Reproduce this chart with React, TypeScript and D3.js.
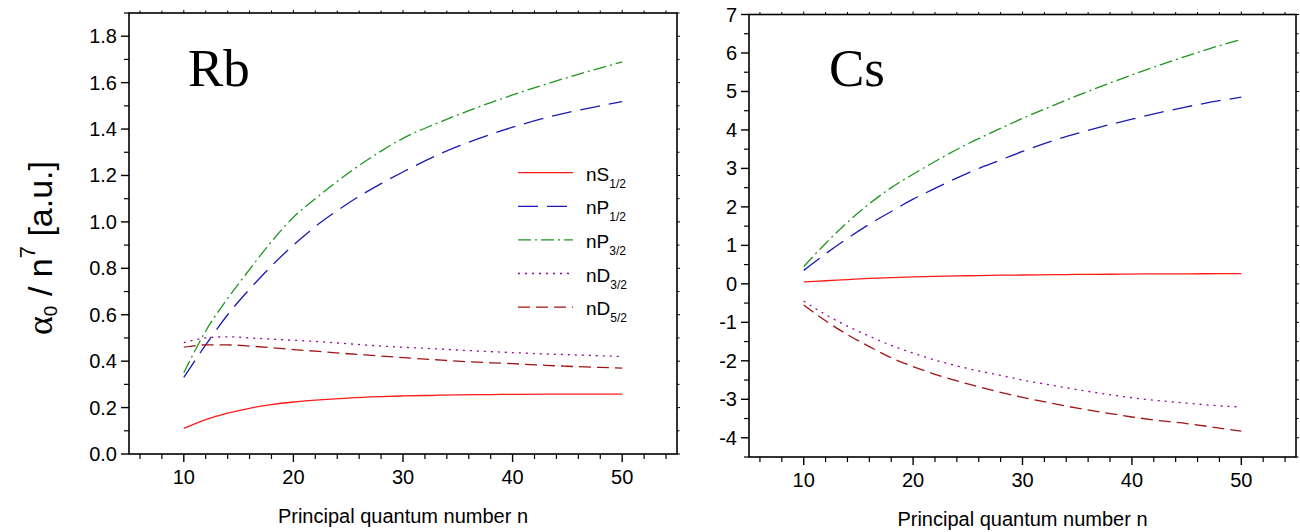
import React from "react";
import * as d3 from "d3";

const nVals = [10, 12, 14, 16, 18, 20, 22, 25, 28, 30, 33, 35, 38, 40, 43, 45, 48, 50];

const rbS12 = [0.11, 0.148, 0.176, 0.197, 0.213, 0.224, 0.232, 0.241, 0.247, 0.25, 0.253, 0.255, 0.256, 0.257, 0.258, 0.258, 0.258, 0.258];
const rbP12 = [0.33, 0.47, 0.6, 0.71, 0.81, 0.9, 0.98, 1.08, 1.165, 1.215, 1.285, 1.325, 1.377, 1.408, 1.448, 1.471, 1.5, 1.518];
const rbP32 = [0.35, 0.53, 0.67, 0.795, 0.915, 1.02, 1.1, 1.21, 1.305, 1.36, 1.423, 1.461, 1.514, 1.547, 1.593, 1.622, 1.663, 1.689];
const rbD32 = [0.48, 0.5, 0.505, 0.5, 0.495, 0.49, 0.485, 0.475, 0.465, 0.46, 0.453, 0.448, 0.441, 0.437, 0.431, 0.428, 0.423, 0.42];
const rbD52 = [0.46, 0.47, 0.47, 0.465, 0.458, 0.45, 0.443, 0.432, 0.422, 0.415, 0.406, 0.4, 0.393, 0.389, 0.382, 0.378, 0.373, 0.37];

const csS12 = [0.05, 0.08, 0.11, 0.14, 0.16, 0.18, 0.195, 0.21, 0.225, 0.23, 0.24, 0.245, 0.25, 0.255, 0.26, 0.26, 0.265, 0.265];
const csP12 = [0.35, 0.78, 1.18, 1.55, 1.88, 2.2, 2.48, 2.88, 3.22, 3.44, 3.74, 3.91, 4.14, 4.28, 4.48, 4.6, 4.76, 4.85];
const csP32 = [0.45, 1.05, 1.6, 2.08, 2.5, 2.85, 3.18, 3.64, 4.04, 4.3, 4.66, 4.89, 5.22, 5.43, 5.73, 5.92, 6.19, 6.35];
const csD32 = [-0.45, -0.8, -1.1, -1.36, -1.6, -1.8, -1.98, -2.2, -2.38, -2.5, -2.65, -2.75, -2.88, -2.96, -3.05, -3.1, -3.17, -3.2];
const csD52 = [-0.55, -0.96, -1.32, -1.63, -1.92, -2.15, -2.35, -2.6, -2.82, -2.95, -3.12, -3.23, -3.37, -3.46, -3.57, -3.63, -3.75, -3.83];

const seriesNames = ["S", "P", "P", "D", "D"];
const seriesSubs = ["1/2", "1/2", "3/2", "3/2", "5/2"];
const seriesColors = ["#ff1a1a", "#1a1ab4", "#1e961e", "#990099", "#a01414"];
const seriesDash = ["", "20,9", "13,4,2,4", "2,5", "12,6"];

const xTickLabels = [10, 20, 30, 40, 50];
const rbYTicks = [0, 0.2, 0.4, 0.6, 0.8, 1.0, 1.2, 1.4, 1.6, 1.8];
const csYTicks = [-4, -3, -2, -1, 0, 1, 2, 3, 4, 5, 6, 7];

const SANS = "'Liberation Sans', Arial, Helvetica, sans-serif";
const SERIF = "'Liberation Serif', 'Times New Roman', serif";

type PanelProps = {
  x0: number; x1: number; y0: number; y1: number;
  ydom: [number, number];
  yTicks: number[]; yMinorStep: number; yFmt: (v: number) => string;
  data: number[][];
  title: string; titleX: number;
  legend?: boolean;
};

function Panel(p: PanelProps) {
  const x = d3.scaleLinear().domain([5, 55]).range([p.x0, p.x1]);
  const y = d3.scaleLinear().domain(p.ydom).range([p.y1, p.y0]);
  const line = d3
    .line<number>()
    .x((_, i) => x(nVals[i]))
    .y((v) => y(v))
    .curve(d3.curveMonotoneX);

  const xMinor = d3.range(6, 55, 2).filter((v) => v % 10 !== 0);
  const yMinor: number[] = [];
  for (let v = p.ydom[0]; v <= p.ydom[1] + 1e-9; v += p.yMinorStep) {
    const r = Math.round(v * 1000) / 1000;
    if (!p.yTicks.some((t) => Math.abs(t - r) < 1e-6)) yMinor.push(r);
  }
  const sw = 1.6;
  return (
    <g>
      {p.data.map((arr, i) => (
        <path
          key={i}
          d={line(arr) || ""}
          fill="none"
          stroke={seriesColors[i]}
          strokeWidth={1.3}
          strokeDasharray={seriesDash[i]}
        />
      ))}
      <rect x={p.x0} y={p.y0} width={p.x1 - p.x0} height={p.y1 - p.y0} fill="none" stroke="#000" strokeWidth={sw} />
      {xTickLabels.map((v) => (
        <g key={"xm" + v}>
          <line x1={x(v)} x2={x(v)} y1={p.y1} y2={p.y1 + 8} stroke="#000" strokeWidth={1.4} />
          <line x1={x(v)} x2={x(v)} y1={p.y0} y2={p.y0 - 3} stroke="#000" strokeWidth={1} />
          <text x={x(v)} y={p.y1 + 30} textAnchor="middle" fontFamily={SANS} fontSize={20} fill="#000">
            {v}
          </text>
        </g>
      ))}
      {xMinor.map((v) => (
        <g key={"xn" + v}>
          <line x1={x(v)} x2={x(v)} y1={p.y1} y2={p.y1 + 5} stroke="#000" strokeWidth={1.2} />
          <line x1={x(v)} x2={x(v)} y1={p.y0} y2={p.y0 - 2.5} stroke="#000" strokeWidth={1} />
        </g>
      ))}
      {p.yTicks.map((v) => (
        <g key={"ym" + v}>
          <line x1={p.x0} x2={p.x0 - 8} y1={y(v)} y2={y(v)} stroke="#000" strokeWidth={1.4} />
          <line x1={p.x1} x2={p.x1 + 3} y1={y(v)} y2={y(v)} stroke="#000" strokeWidth={1} />
          <text x={p.x0 - 12} y={y(v) + 7} textAnchor="end" fontFamily={SANS} fontSize={20} fill="#000">
            {p.yFmt(v)}
          </text>
        </g>
      ))}
      {yMinor.map((v) => (
        <g key={"yn" + v}>
          <line x1={p.x0} x2={p.x0 - 5} y1={y(v)} y2={y(v)} stroke="#000" strokeWidth={1.2} />
          <line x1={p.x1} x2={p.x1 + 2.5} y1={y(v)} y2={y(v)} stroke="#000" strokeWidth={1} />
        </g>
      ))}
      <text x={(p.x0 + p.x1) / 2} y={p.y1 + 69} textAnchor="middle" fontFamily={SANS} fontSize={20} fill="#000">
        Principal quantum number n
      </text>
      <text x={p.titleX} y={86} fontFamily={SERIF} fontSize={53} fill="#000">
        {p.title}
      </text>
      {p.legend &&
        seriesNames.map((nm, i) => {
          const ly = 172.7 + i * 33.6;
          return (
            <g key={"lg" + i}>
              <line x1={518} x2={573} y1={ly} y2={ly} stroke={seriesColors[i]} strokeWidth={1.3} strokeDasharray={seriesDash[i]} />
              <text x={586} y={ly + 8} fontFamily={SANS} fontSize={19} fill="#000">
                n{nm}
                <tspan fontSize={12} dy={7}>
                  {seriesSubs[i]}
                </tspan>
              </text>
            </g>
          );
        })}
    </g>
  );
}

export default function App() {
  return (
    <svg
      width={1300}
      height={532}
      style={{ position: "absolute", left: 0, top: 0, background: "#fff" }}
      xmlns="http://www.w3.org/2000/svg"
    >
      <rect x={0} y={0} width={1300} height={532} fill="#fff" />
      <Panel
        x0={129} x1={677} y0={13} y1={454}
        ydom={[0, 1.9]} yTicks={rbYTicks} yMinorStep={0.1}
        yFmt={(v) => v.toFixed(1)}
        data={[rbS12, rbP12, rbP32, rbD32, rbD52]}
        title="Rb" titleX={188} legend
      />
      <Panel
        x0={749} x1={1296} y0={14.5} y1={457}
        ydom={[-4.5, 7]} yTicks={csYTicks} yMinorStep={0.5}
        yFmt={(v) => String(v)}
        data={[csS12, csP12, csP32, csD32, csD52]}
        title="Cs" titleX={829}
      />
      <text
        transform="translate(52,248) rotate(-90)"
        textAnchor="middle"
        fontFamily={SANS}
        fontSize={34}
        fill="#000"
      >
        <tspan fontFamily={SERIF} fontSize={36}>α</tspan>
        <tspan fontSize={19} dy={5}>0</tspan>
        <tspan dy={-5}> / n</tspan>
        <tspan fontSize={22} dy={-17}>7</tspan>
        <tspan dy={17}> [a.u.]</tspan>
      </text>
    </svg>
  );
}
